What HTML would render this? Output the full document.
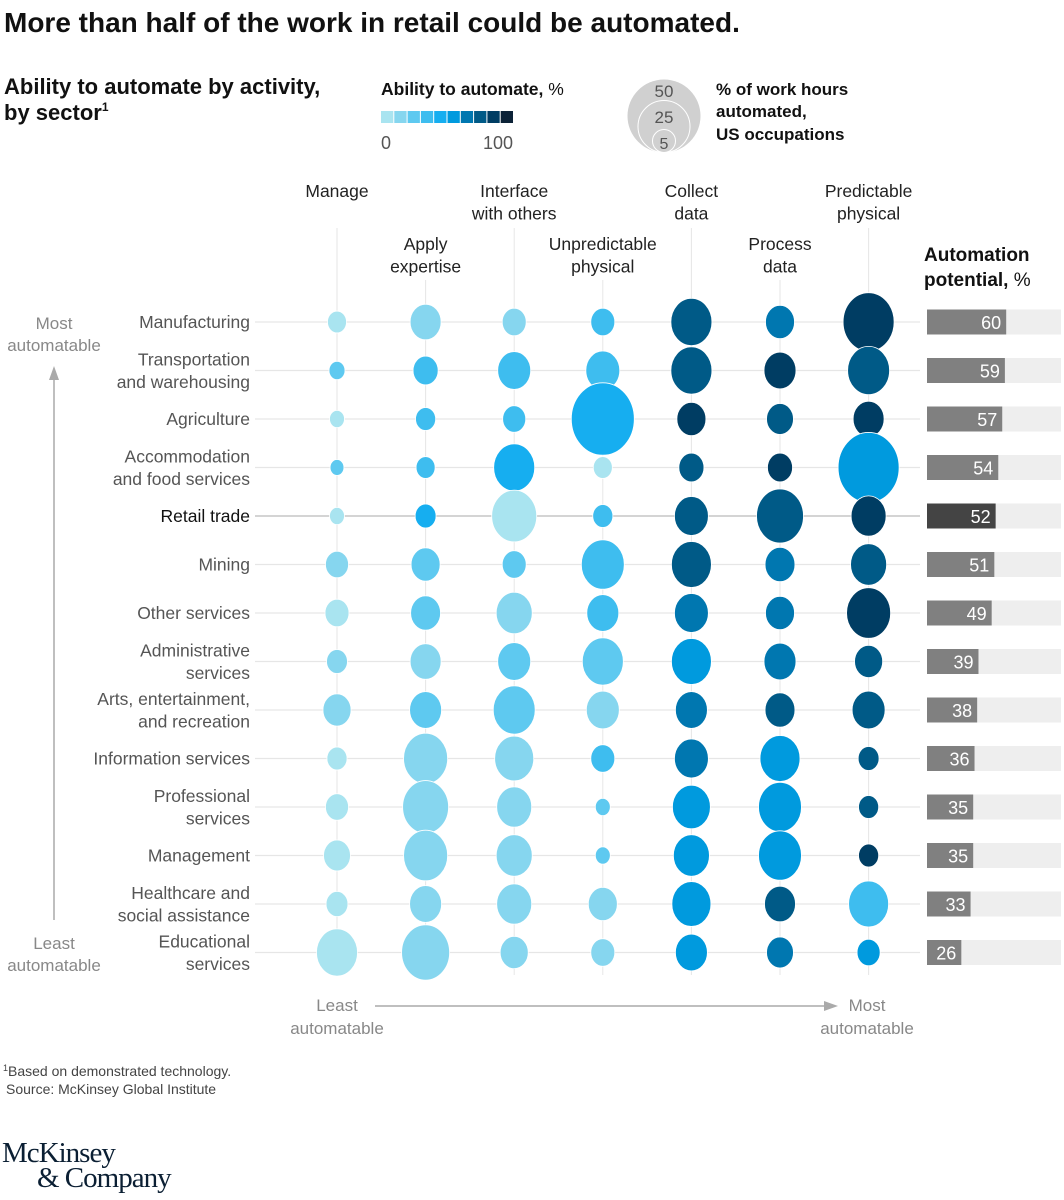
<!DOCTYPE html>
<html><head><meta charset="utf-8">
<style>
body{margin:0;background:#fff;width:1064px;height:1200px;overflow:hidden;font-family:"Liberation Sans",sans-serif;}
svg{display:block}
</style></head>
<body>
<svg id="chart" width="1064" height="1200" viewBox="0 0 1064 1200">
<text x="4" y="32" font-size="28" font-weight="bold" fill="#111">More than half of the work in retail could be automated.</text>
<text x="4" y="94" font-size="22" font-weight="bold" fill="#111">Ability to automate by activity,</text>
<text x="4" y="120" font-size="22" font-weight="bold" fill="#111">by sector<tspan font-size="12" dy="-9">1</tspan></text>
<text x="381" y="95" font-size="17.5" font-weight="bold" fill="#111">Ability to automate, <tspan font-weight="normal">%</tspan></text>
<g id="colorLegend"></g>
<text x="381" y="149" font-size="18" fill="#555">0</text>
<text x="513" y="149" font-size="18" fill="#555" text-anchor="end">100</text>
<g>
<circle cx="664" cy="116" r="36.5" fill="#d0d0d0"/>
<circle cx="664" cy="126.5" r="26" fill="#d0d0d0" stroke="#fff" stroke-width="1"/>
<circle cx="664" cy="141" r="11.5" fill="#d0d0d0" stroke="#fff" stroke-width="1"/>
<text x="664" y="97" font-size="17" fill="#555" text-anchor="middle">50</text>
<text x="664" y="123" font-size="17" fill="#555" text-anchor="middle">25</text>
<text x="664" y="149" font-size="16" fill="#555" text-anchor="middle">5</text>
</g>
<text font-size="17" font-weight="bold" fill="#111"><tspan x="716" y="95">% of work hours</tspan><tspan x="716" y="117">automated,</tspan><tspan x="716" y="140">US occupations</tspan></text>
<text font-size="19" font-weight="bold" fill="#111"><tspan x="924" y="261">Automation</tspan><tspan x="924" y="286">potential, <tspan font-weight="normal">%</tspan></tspan></text>
<g id="grid"></g>
<g id="headers"></g>
<g id="bubbles"></g>
<g id="bars"></g>
<g>
<text x="54" y="329" font-size="17" fill="#888" text-anchor="middle">Most</text>
<text x="54" y="351" font-size="17" fill="#888" text-anchor="middle">automatable</text>
<line x1="54" y1="920" x2="54" y2="372" stroke="#aaa" stroke-width="1.5"/>
<path d="M49,380 L54,366 L59,380 Z" fill="#aaa"/>
<text x="54" y="949" font-size="17" fill="#888" text-anchor="middle">Least</text>
<text x="54" y="971" font-size="17" fill="#888" text-anchor="middle">automatable</text>
</g>
<g>
<text x="337" y="1011" font-size="17" fill="#888" text-anchor="middle">Least</text>
<text x="337" y="1034" font-size="17" fill="#888" text-anchor="middle">automatable</text>
<line x1="375" y1="1006" x2="830" y2="1006" stroke="#aaa" stroke-width="1.5"/>
<path d="M824,1001 L838,1006 L824,1011 Z" fill="#aaa"/>
<text x="867" y="1011" font-size="17" fill="#888" text-anchor="middle">Most</text>
<text x="867" y="1034" font-size="17" fill="#888" text-anchor="middle">automatable</text>
</g>
<text font-size="14" fill="#444"><tspan x="3" y="1076"><tspan font-size="9" dy="-5">1</tspan><tspan dy="5">Based on demonstrated technology.</tspan></tspan><tspan x="6" y="1094">Source: McKinsey Global Institute</tspan></text>
<text font-family="Liberation Serif,serif" font-size="29" fill="#0b1f33" letter-spacing="-1"><tspan x="2" y="1162">McKinsey</tspan><tspan x="37" y="1187">&amp; Company</tspan></text>
</svg>
<script>
const activities = ["Manage","Apply expertise","Interface with others","Unpredictable physical","Collect data","Process data","Predictable physical"];
const sectors = ["Manufacturing","Transportation and warehousing","Agriculture","Accommodation and food services","Retail trade","Mining","Other services","Administrative services","Arts, entertainment, and recreation","Information services","Professional services","Management","Healthcare and social assistance","Educational services"];
const potential = [60,59,57,54,52,51,49,39,38,36,35,35,33,26];
const hours = [
 [3.4,9.0,5.4,5.4,15.8,7.9,24.4],
 [2.4,5.9,10.2,10.8,15.8,9.6,16.5],
 [2.1,3.8,5.0,37.2,7.9,6.8,9.0],
 [1.8,3.4,15.8,3.4,5.9,5.9,34.9],
 [2.1,4.1,19.0,3.8,10.8,20.7,11.5],
 [5.0,7.9,5.4,17.3,15.0,8.4,12.2],
 [5.4,8.4,12.2,9.6,10.8,7.9,18.2],
 [4.1,9.0,10.2,15.8,15.0,9.6,7.4],
 [7.4,9.6,16.5,10.2,9.6,8.4,10.2],
 [3.8,18.2,14.3,5.4,10.8,15.0,4.1],
 [5.0,19.8,11.5,2.1,13.5,17.3,3.8],
 [6.8,18.2,12.2,2.1,12.2,17.3,3.8],
 [4.5,9.6,11.5,7.9,14.3,9.0,15.0],
 [15.8,21.6,7.4,5.4,9.6,6.8,5.0]
];
const ability = [
 [5,15,15,35,75,65,85],
 [25,35,35,35,75,85,75],
 [5,35,35,45,85,75,85],
 [25,35,45,5,75,85,55],
 [5,45,5,35,75,75,85],
 [15,25,25,35,75,65,75],
 [5,25,15,35,65,65,85],
 [15,15,25,25,55,65,75],
 [15,25,25,15,65,75,75],
 [5,15,15,35,65,55,75],
 [5,15,15,25,55,55,75],
 [5,15,15,25,55,55,85],
 [5,15,15,15,55,75,35],
 [5,15,15,15,55,65,55]
];
const palette = ["#a9e4f0","#86d6ef","#5ec9f0","#3ebdef","#16aef0","#009ade","#0077b0","#005a87","#003d63","#0c2237"];
const NS="http://www.w3.org/2000/svg";
function mk(tag, attrs, parent){const e=document.createElementNS(NS,tag);for(const k in attrs)e.setAttribute(k,attrs[k]);parent.appendChild(e);return e;}
const colX = i => 337 + i*88.6;
const rowY = j => 322 + j*48.5;
const rScale = v => 36.5*Math.sqrt(v/50);
const colorOf = v => palette[Math.min(9,Math.floor(v/10))];
const barX = v => v*1.32;

const cl=document.getElementById('colorLegend');
palette.forEach((c,i)=>{const r=mk('rect',{x:381+i*13.3,y:111,width:12.3,height:12,fill:c},cl);

});

const grid=document.getElementById('grid');
activities.forEach((a,i)=>{const l=mk('line',{x1:colX(i),x2:colX(i),y1:i%2?280:228,y2:975,stroke:'#e6e6e6','stroke-width':1},grid);

});
sectors.forEach((s,j)=>{const l=mk('line',{x1:255,x2:920,y1:rowY(j),y2:rowY(j),stroke:s==="Retail trade"?'#bbb':'#e6e6e6','stroke-width':1.2},grid);

});

const headerLines=[["Manage"],["Apply","expertise"],["Interface","with others"],["Unpredictable","physical"],["Collect","data"],["Process","data"],["Predictable","physical"]];
const hd=document.getElementById('headers');
headerLines.forEach((ls,i)=>{const y0=i%2?250:197;
 ls.forEach((t,k)=>{const tx=mk('text',{x:colX(i),y:y0+k*22.5,'font-size':17.5,fill:'#222','text-anchor':'middle'},hd);tx.textContent=t;
 
 });});

const sectorLines=[["Manufacturing"],["Transportation","and warehousing"],["Agriculture"],["Accommodation","and food services"],["Retail trade"],["Mining"],["Other services"],["Administrative","services"],["Arts, entertainment,","and recreation"],["Information services"],["Professional","services"],["Management"],["Healthcare and","social assistance"],["Educational","services"]];
sectorLines.forEach((ls,j)=>{const y0=ls.length===1?rowY(j)+6:rowY(j)-5;
 ls.forEach((t,k)=>{const tx=mk('text',{x:250,y:y0+k*22.5,'font-size':17.5,fill:j===4?'#111':'#555','text-anchor':'end'},hd);tx.textContent=t;
 
 });});

const bb=document.getElementById('bubbles');
sectors.forEach((s,j)=>{activities.forEach((a,i)=>{
 const r=rScale(hours[j][i]);
 const e=mk('ellipse',{cx:colX(i),cy:rowY(j),rx:r,ry:r*1.15,fill:colorOf(ability[j][i]),stroke:'#fff','stroke-width':0.8},bb);
 
 
});});

const bars=document.getElementById('bars');
potential.forEach((v,j)=>{
 const bg=mk('rect',{x:927,y:rowY(j)-12.5,width:134,height:25,fill:'#eeeeee'},bars);
 
 
 const b=mk('rect',{x:927,y:rowY(j)-12.5,width:barX(v),height:25,fill:j===4?'#444':'#808080'},bars);
 
 
 const t=mk('text',{x:927+barX(v)-5,y:rowY(j)+7,'font-size':18,fill:'#fff','text-anchor':'end'},bars);t.textContent=v;
 
 
});
</script>
</body></html>
